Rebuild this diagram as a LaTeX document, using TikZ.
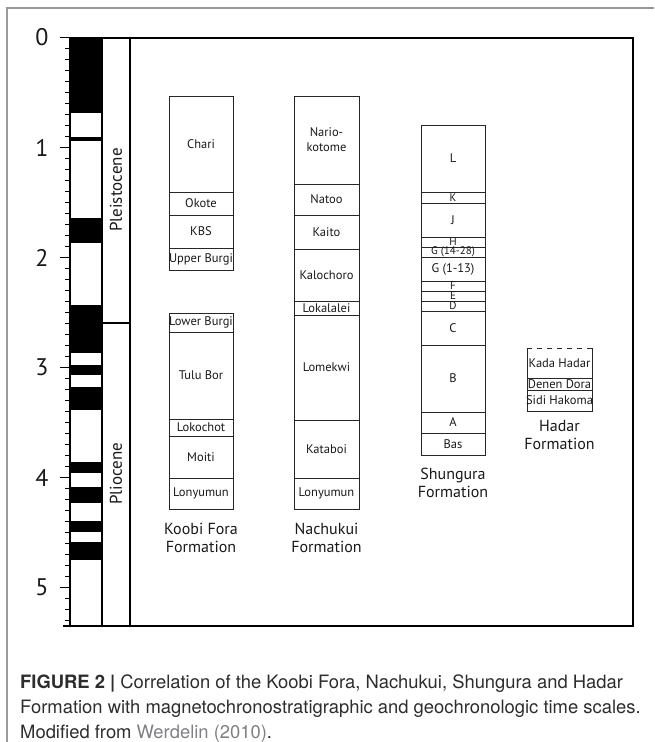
\documentclass[tikz,border=0pt]{standalone}
\usepackage{fontspec}
\setmainfont{PT Sans}
\newfontfamily\capfont{TeX Gyre Heros}
\definecolor{linkgray}{RGB}{128,128,132}
\definecolor{captext}{RGB}{45,45,45}
\tikzset{
  frameline/.style={line width=2pt, black},
  colline/.style={line width=1.5pt, black},
  lyr/.style={draw=black!85, line width=0.9pt},
  lbl/.style={font=\fontsize{12.5}{15}\selectfont, inner sep=0pt, align=center, text=black!90},
  thinlbl/.style={lbl, font=\fontsize{11}{12}\selectfont},
  fmn/.style={font=\fontsize{16}{18}\selectfont, align=center, inner sep=0pt, text=black!90},
  num/.style={font=\fontsize{24}{26}\selectfont, inner sep=0pt, text=black!90},
  epochlbl/.style={font=\fontsize{17}{19}\selectfont, rotate=90, inner sep=0pt, text=black!90},
  minortick/.style={line width=1.2pt},
  majortick/.style={line width=1.5pt},
  capt/.style={font=\capfont\fontsize{18.4}{25}\selectfont, anchor=base west, inner sep=0pt, text=captext},
}
\newcommand\layer[7][lbl]{%
  \draw[lyr] (#3,#5) rectangle (#4,#6);
  \node[#1] (#2) at ({(#3+#4)/2},{(#5+#6)/2}) {#7};}
\begin{document}
\begin{tikzpicture}[x=1pt,y=-1pt]
\useasboundingbox (0,0) rectangle (654,742);
% outer light border
\draw[black!40, line width=1.2pt] (7,742) -- (7,8) -- (654,8);

% polarity blocks
\fill (70,38) rectangle (102,113);
\fill (70,137) rectangle (102,141);
\fill (70,218) rectangle (102,243);
\fill (70,305) rectangle (102,353);
\fill (70,365) rectangle (102,375);
\fill (70,387) rectangle (102,410);
\fill (70,462) rectangle (102,473);
\fill (70,487) rectangle (102,503);
\fill (70,521) rectangle (102,532);
\fill (70,542) rectangle (102,560);

% ticks
\foreach \i in {0,...,53} {
  \pgfmathsetmacro\yy{37.5+11*\i}
  \draw[minortick] (65,\yy) -- (70,\yy);
}
\foreach \m in {0,...,5} {
  \pgfmathsetmacro\yy{37.5+110*\m}
  \draw[majortick] (60,\yy) -- (70,\yy);
  \node[num] (n\m) at (42,\yy) {\m};
}

% columns and frame
\draw[colline] (70,38) -- (70,626);
\draw[colline] (102,38) -- (102,626);
\draw[colline] (70,38) -- (130,38);
\draw[colline] (102,323) -- (130,323);
\draw[frameline] (130,38) rectangle (633,626);
\draw[frameline] (63,626) -- (130,626);

\node[epochlbl] (pleist) at (116,190) {Pleistocene};
\node[epochlbl] (plio) at (116,474) {Pliocene};

% Koobi Fora
\layer{kf1}{169}{233}{96}{192}{Chari}
\layer{kf2}{169}{233}{192}{215}{Okote}
\layer{kf3}{169}{233}{215}{248}{KBS}
\layer{kf4}{169}{233}{248}{270}{Upper Burgi}
\layer{kf5}{169}{233}{313}{332}{Lower Burgi}
\layer{kf6}{169}{233}{332}{419}{Tulu Bor}
\layer{kf7}{169}{233}{419}{436}{Lokochot}
\layer{kf8}{169}{233}{436}{478}{Moiti}
\layer{kf9}{169}{233}{478}{509}{Lonyumun}
\node[fmn] (kfname) at (201,538) {Koobi Fora\\Formation};

% Nachukui
\layer{nk1}{294}{359}{96}{184}{Nario-\\kotome}
\layer{nk2}{294}{359}{184}{215}{Natoo}
\layer{nk3}{294}{359}{215}{249}{Kaito}
\layer{nk4}{294}{359}{249}{301}{Kalochoro}
\layer{nk5}{294}{359}{301}{315}{Lokalalei}
\layer{nk6}{294}{359}{315}{420}{Lomekwi}
\layer{nk7}{294}{359}{420}{478}{Kataboi}
\layer{nk8}{294}{359}{478}{509}{Lonyumun}
\node[fmn] (nkname) at (326.5,538) {Nachukui\\Formation};

% Shungura
\layer{sh1}{421}{485}{125}{192}{L}
\layer[thinlbl]{sh2}{421}{485}{192}{203}{K}
\layer{sh3}{421}{485}{203}{237}{J}
\layer[thinlbl]{sh4}{421}{485}{237}{247}{H}
\layer[thinlbl]{sh5}{421}{485}{247}{257}{G (14-28)}
\layer{sh6}{421}{485}{257}{281}{G (1-13)}
\layer[thinlbl]{sh7}{421}{485}{281}{291}{F}
\layer[thinlbl]{sh8}{421}{485}{291}{301}{E}
\layer[thinlbl]{sh9}{421}{485}{301}{311}{D}
\layer{sh10}{421}{485}{311}{345}{C}
\layer{sh11}{421}{485}{345}{412}{B}
\layer{sh12}{421}{485}{412}{433}{A}
\layer{sh13}{421}{485}{433}{455}{Bas}
\node[fmn] (shname) at (453,483) {Shungura\\Formation};

% Hadar
\draw[lyr] (527,348) -- (527,411) -- (592,411) -- (592,348);
\draw[lyr, dash pattern=on 5pt off 5pt] (527,348) -- (592,348);
\draw[lyr] (527,378) -- (592,378);
\draw[lyr] (527,390) -- (592,390);
\node[lbl] (hd1) at (559.5,363) {Kada Hadar};
\node[lbl] (hd2) at (559.5,384) {Denen Dora};
\node[lbl] (hd3) at (559.5,400.5) {Sidi Hakoma};
\node[fmn] (hdname) at (559.5,435) {Hadar\\Formation};

% caption
\node[capt] (c1) at (20,688) {\textbf{FIGURE 2 |} Correlation of the Koobi Fora, Nachukui, Shungura and Hadar};
\node[capt] (c2) at (20,713) {Formation with magnetochronostratigraphic and geochronologic time scales.};
\node[capt] (c3) at (20,738) {Modified from \textcolor{linkgray}{Werdelin (2010)}.};
\end{tikzpicture}
\end{document}
